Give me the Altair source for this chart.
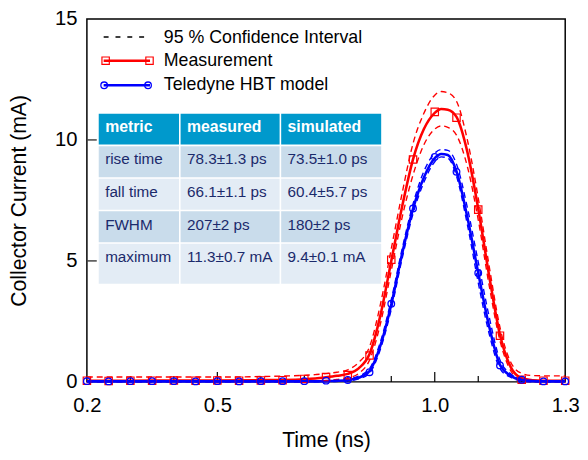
import altair as alt
import pandas as pd

# ---------------- data ----------------
t_marks = [0.20, 0.25, 0.30, 0.35, 0.40, 0.45, 0.50, 0.55, 0.60, 0.65, 0.70, 0.75,
           0.80, 0.85, 0.90, 0.95, 1.00, 1.05, 1.10, 1.15, 1.20, 1.25, 1.30]
meas_marks = [0.05, 0.04, 0.05, 0.05, 0.06, 0.05, 0.06, 0.05, 0.06, 0.07, 0.12, 0.20,
              0.28, 1.09, 5.05, 9.19, 11.16, 10.92, 7.12, 1.91, 0.09, 0.05, 0.05]
model_marks = [0.03, 0.02, 0.03, 0.03, 0.03, 0.02, 0.03, 0.02, 0.03, 0.03, 0.03, 0.05,
               0.08, 0.40, 3.23, 7.17, 9.30, 8.68, 4.50, 0.68, 0.09, 0.02, 0.02]

t_line = [0.20, 0.30, 0.40, 0.50, 0.60, 0.65, 0.70, 0.725, 0.75, 0.775, 0.80, 0.825,
          0.85, 0.875, 0.90, 0.925, 0.95, 0.975, 1.00, 1.015, 1.03, 1.05, 1.075, 1.10,
          1.125, 1.15, 1.175, 1.20, 1.225, 1.25, 1.30]
meas_line = [0.05, 0.05, 0.06, 0.06, 0.07, 0.08, 0.11, 0.14, 0.19, 0.25, 0.33, 0.56,
             1.15, 2.75, 5.00, 7.25, 9.20, 10.45, 11.12, 11.28, 11.25, 10.95, 9.50, 7.15,
             4.40, 1.95, 0.60, 0.15, 0.07, 0.05, 0.05]
model_line = [0.02, 0.02, 0.02, 0.02, 0.02, 0.02, 0.02, 0.02, 0.03, 0.04, 0.07, 0.17,
              0.45, 1.50, 3.20, 5.30, 7.15, 8.45, 9.25, 9.42, 9.38, 8.70, 6.80, 4.50,
              2.30, 0.70, 0.25, 0.08, 0.03, 0.02, 0.02]
meas_ci_upper = [0.20, 0.20, 0.20, 0.20, 0.22, 0.24, 0.27, 0.30, 0.34, 0.40, 0.50, 0.80,
                 1.45, 3.20, 5.50, 7.80, 9.85, 11.10, 11.85, 12.00, 11.95, 11.60, 10.00, 7.60,
                 4.80, 2.25, 0.80, 0.35, 0.26, 0.25, 0.25]
meas_ci_lower = [0.00, 0.00, 0.00, 0.00, 0.00, 0.00, 0.00, 0.02, 0.05, 0.10, 0.16, 0.35,
                 0.90, 2.40, 4.60, 6.80, 8.55, 9.80, 10.45, 10.58, 10.52, 10.20, 8.90, 6.70,
                 4.00, 1.70, 0.45, 0.05, 0.00, 0.00, 0.00]
model_ci_upper = [0.04, 0.04, 0.04, 0.04, 0.04, 0.04, 0.04, 0.04, 0.05, 0.06, 0.11, 0.24,
                  0.55, 1.65, 3.40, 5.50, 7.35, 8.70, 9.45, 9.60, 9.57, 9.00, 7.20, 4.95,
                  2.70, 0.90, 0.32, 0.10, 0.05, 0.04, 0.04]
model_ci_lower = [0.00, 0.00, 0.00, 0.00, 0.00, 0.00, 0.00, 0.00, 0.01, 0.02, 0.04, 0.12,
                  0.36, 1.35, 3.00, 5.10, 6.95, 8.25, 9.10, 9.30, 9.25, 8.50, 6.50, 4.10,
                  2.00, 0.55, 0.18, 0.04, 0.00, 0.00, 0.00]

x_tick_labels = [0.2, 0.5, 1.0, 1.3]
x_major_ticks = [0.5, 1.0]
x_minor_ticks = [0.3, 0.4, 0.6, 0.7, 0.8, 0.9, 1.1, 1.2]
y_tick_labels = [0, 5, 10, 15]
y_inner_ticks = [5, 10]

legend_labels = ["95 % Confidence Interval", "Measurement", "Teledyne HBT model"]
table_header = ["metric", "measured", "simulated"]
table_metric = ["rise time", "fall time", "FWHM", "maximum"]
table_measured = ["78.3±1.3 ps", "66.1±1.1 ps", "207±2 ps", "11.3±0.7 mA"]
table_simulated = ["73.5±1.0 ps", "60.4±5.7 ps", "180±2 ps", "9.4±0.1 mA"]

# ---------------- style / layout ----------------
RED = "#FF0000"
BLUE = "#0000FF"
FONT = "Liberation Sans"
W, H = 485, 368
TOP = 8
HEADER_FILL = "#0099CC"
ROW_FILLS = ["#C9DCEB", "#E3ECF5"]
TABLE_TEXT = "#1B2A6B"
TABLE_X0, TABLE_Y0 = 12, 96
COL_W = [83, 102, 103]
ROW_H = [33, 33, 33, 33, 42]
GAP = 1.6

xs = alt.Scale(domain=[0.2, 1.3], nice=False, zero=False)
ys = alt.Scale(domain=[0, 15], nice=False, zero=False)
px_x = alt.Scale(domain=[0, W], range=[0, W], nice=False, zero=False)
px_y = alt.Scale(domain=[0, H], range=[0, H], nice=False, zero=False)

x_axis = alt.Axis(values=x_tick_labels, format=".1f", ticks=False, tickSize=0, domain=False,
                  grid=False, labelFlush=False, labelOverlap=False, labelFont=FONT,
                  labelFontSize=20.5, labelColor="black", labelPadding=14,
                  titleFont=FONT, titleFontSize=21.5, titleFontWeight="normal",
                  titleColor="black", titlePadding=14)
y_axis = alt.Axis(values=y_tick_labels, format="d", ticks=False, tickSize=0, domain=False,
                  grid=False, labelFlush=False, labelOverlap=False, labelFont=FONT,
                  labelFontSize=20.5, labelColor="black", labelPadding=10,
                  titleFont=FONT, titleFontSize=21.5, titleFontWeight="normal",
                  titleColor="black", titlePadding=24)


def XM(field):
    return alt.X(field, type="quantitative", scale=xs, axis=x_axis, title="Time (ns)")


def YM(field):
    return alt.Y(field, type="quantitative", scale=ys, axis=y_axis,
                 title="Collector Current (mA)")


def XP(field):
    return alt.X(field, type="quantitative", scale=px_x, axis=None)


def YP(field):
    return alt.Y(field, type="quantitative", scale=px_y, axis=None)


# ---------------- main data layers ----------------
def ci_frame(upper, lower):
    return pd.DataFrame({
        "t": t_line + t_line,
        "v": upper + lower,
        "bound": ["upper"] * len(t_line) + ["lower"] * len(t_line),
    })


red_ci = alt.Chart(ci_frame(meas_ci_upper, meas_ci_lower)).mark_line(
    color=RED, strokeWidth=1.4, strokeDash=[6, 4], interpolate="monotone"
).encode(x=XM("t"), y=YM("v"), detail="bound:N")
blue_ci = alt.Chart(ci_frame(model_ci_upper, model_ci_lower)).mark_line(
    color=BLUE, strokeWidth=1.4, strokeDash=[6, 4], interpolate="monotone"
).encode(x=XM("t"), y=YM("v"), detail="bound:N")

red_line = alt.Chart(pd.DataFrame({"t": t_line, "v": meas_line})).mark_line(
    color=RED, strokeWidth=2.6, interpolate="monotone"
).encode(x=XM("t"), y=YM("v"))
blue_line = alt.Chart(pd.DataFrame({"t": t_line, "v": model_line})).mark_line(
    color=BLUE, strokeWidth=2.6, interpolate="monotone"
).encode(x=XM("t"), y=YM("v"))

red_pts = alt.Chart(pd.DataFrame({"t": t_marks, "v": meas_marks})).mark_point(
    shape="square", filled=False, color=RED, size=56, strokeWidth=1.2, opacity=1
).encode(x=XM("t"), y=YM("v"))
blue_pts = alt.Chart(pd.DataFrame({"t": t_marks, "v": model_marks})).mark_point(
    shape="circle", filled=False, color=BLUE, size=45, strokeWidth=1.3, opacity=1
).encode(x=XM("t"), y=YM("v"))

x_major = alt.Chart(pd.DataFrame({"t": x_major_ticks})).mark_rule(
    color="black", strokeWidth=1.2
).encode(x=XM("t"), y=alt.value(H), y2=alt.value(H - 10))
x_minor = alt.Chart(pd.DataFrame({"t": x_minor_ticks})).mark_rule(
    color="black", strokeWidth=1.2
).encode(x=XM("t"), y=alt.value(H), y2=alt.value(H - 6))
y_ticks = alt.Chart(pd.DataFrame({"v": y_inner_ticks})).mark_rule(
    color="#444444", strokeWidth=1.5
).encode(y=YM("v"), x=alt.value(0), x2=alt.value(10))

main = alt.layer(x_major, x_minor, y_ticks, red_ci, red_line, blue_ci, blue_line,
                 red_pts, blue_pts)

# ---------------- table overlay ----------------
cells, head_txt, body_txt = [], [], []
columns = [[table_header[0]] + table_metric,
           [table_header[1]] + table_measured,
           [table_header[2]] + table_simulated]
for r in range(len(ROW_H)):
    y0 = TABLE_Y0 + sum(ROW_H[:r])
    for c in range(len(COL_W)):
        x0 = TABLE_X0 + sum(COL_W[:c])
        fill = HEADER_FILL if r == 0 else ROW_FILLS[(r - 1) % 2]
        cells.append({"x0": x0, "x1": x0 + COL_W[c] - GAP,
                      "y0": y0, "y1": y0 + ROW_H[r] - GAP, "fill": fill})
        item = {"x": x0 + 6.5, "y": y0 + 18.5, "label": columns[c][r]}
        (head_txt if r == 0 else body_txt).append(item)

table_rects = alt.Chart(pd.DataFrame(cells)).mark_rect().encode(
    x=XP("x0"), x2="x1", y=YP("y0"), y2="y1", color=alt.Color("fill:N", scale=None))
table_head = alt.Chart(pd.DataFrame(head_txt)).mark_text(
    align="left", baseline="alphabetic", font=FONT, fontSize=16, fontWeight="bold",
    color="white"
).encode(x=XP("x"), y=YP("y"), text="label:N")
table_body = alt.Chart(pd.DataFrame(body_txt)).mark_text(
    align="left", baseline="alphabetic", font=FONT, fontSize=15.5, color=TABLE_TEXT
).encode(x=XP("x"), y=YP("y"), text="label:N")

# ---------------- legend overlay ----------------
LEG_X = [17, 64]
LEG_SYM_Y = [18.3, 42.3, 67.3]
LEG_TXT_X = 78
LEG_TXT_Y = [24, 47.5, 72.5]

leg_dash = alt.Chart(pd.DataFrame({"x": LEG_X, "y": [LEG_SYM_Y[0]] * 2})).mark_line(
    color="black", strokeWidth=1.4, strokeDash=[5, 7]
).encode(x=XP("x"), y=YP("y"))
leg_red = alt.Chart(pd.DataFrame({"x": LEG_X, "y": [LEG_SYM_Y[1]] * 2})).mark_line(
    color=RED, strokeWidth=2.6
).encode(x=XP("x"), y=YP("y"))
leg_red_pts = alt.Chart(pd.DataFrame({"x": [19, 63.5], "y": [LEG_SYM_Y[1]] * 2})).mark_point(
    shape="square", filled=False, color=RED, size=56, strokeWidth=1.2, opacity=1
).encode(x=XP("x"), y=YP("y"))
leg_blue = alt.Chart(pd.DataFrame({"x": LEG_X, "y": [LEG_SYM_Y[2]] * 2})).mark_line(
    color=BLUE, strokeWidth=2.6
).encode(x=XP("x"), y=YP("y"))
leg_blue_pts = alt.Chart(pd.DataFrame({"x": [17.5, 62], "y": [LEG_SYM_Y[2]] * 2})).mark_point(
    shape="circle", filled=False, color=BLUE, size=45, strokeWidth=1.3, opacity=1
).encode(x=XP("x"), y=YP("y"))
leg_text = alt.Chart(pd.DataFrame({"x": [LEG_TXT_X] * 3, "y": LEG_TXT_Y,
                                   "label": legend_labels})).mark_text(
    align="left", baseline="alphabetic", font=FONT, fontSize=18, color="black"
).encode(x=XP("x"), y=YP("y"), text="label:N")

overlay = alt.layer(table_rects, table_head, table_body, leg_dash, leg_red, leg_red_pts,
                    leg_blue, leg_blue_pts, leg_text)

chart = alt.layer(main, overlay).resolve_scale(
    x="independent", y="independent"
).properties(
    width=W, height=H, autosize="none",
    padding={"left": 80, "top": TOP, "right": 15, "bottom": 68},
    background="white",
).configure_view(stroke="black", strokeWidth=1.5)

chart.save("out.html", embed_options={"renderer": "svg", "actions": False})
